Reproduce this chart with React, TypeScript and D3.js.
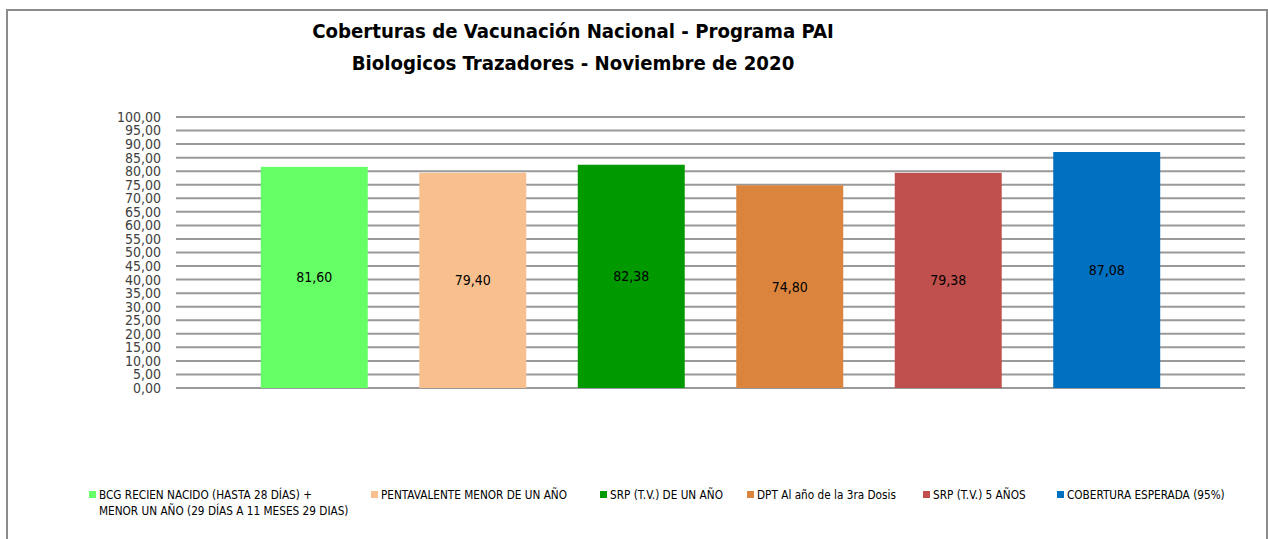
import React from 'react';
import * as d3 from 'd3';

const titleLines = ['Coberturas de Vacunación Nacional - Programa PAI', 'Biologicos Trazadores - Noviembre de 2020'];
const series = [
  'BCG RECIEN NACIDO (HASTA 28 DÍAS) +|MENOR UN AÑO (29 DÍAS A 11 MESES 29 DIAS)',
  'PENTAVALENTE MENOR DE UN AÑO',
  'SRP (T.V.) DE UN AÑO',
  'DPT Al año de la 3ra Dosis',
  'SRP (T.V.) 5 AÑOS',
  'COBERTURA ESPERADA (95%)',
];
const values = [81.6, 79.4, 82.38, 74.8, 79.38, 87.08];
const colors = ['#66FF66', '#F9C08F', '#009900', '#DB843D', '#C0504D', '#0070C0'];
const yTicks = d3.range(0, 101, 5);
const legendX = [92, 374, 603, 750, 926, 1060];

const font = "'Liberation Sans Narrow', 'DejaVu Sans Condensed', 'Open Sans', sans-serif";
const fmt = (v: number) => v.toFixed(2).replace('.', ',');

export default function App() {
  const W = 1268, H = 539;
  const plotL = 176, plotR = 1245, top = 117, bottom = 388;

  const y = d3.scaleLinear().domain([0, 100]).range([bottom, top]);
  const x = d3.scaleBand<number>()
    .domain(d3.range(series.length))
    .range([plotL, plotR])
    .paddingInner(0.325)
    .paddingOuter(0.535);

  return (
    <svg width={W} height={H} style={{ position: 'absolute', left: 0, top: 0 }} fontFamily={font}>
      <rect x={0} y={0} width={W} height={H} fill="#fff" />
      <rect x={7} y={10} width={1260} height={560} fill="#fff" stroke="#8c8c8c" strokeWidth={2} />

      {titleLines.map((t, i) => (
        <text key={i} x={573} y={38 + i * 32} textAnchor="middle" fontSize={20.2} fontWeight="bold" fill="#000">{t}</text>
      ))}

      {yTicks.map((t) => (
        <g key={t}>
          <line x1={plotL} x2={plotR} y1={y(t)} y2={y(t)} stroke="#999" strokeWidth={2} />
          <text x={161} y={y(t)} dy="0.35em" textAnchor="end" fontSize={14} fill="#404040">{fmt(t)}</text>
        </g>
      ))}

      {values.map((v, i) => (
        <g key={i}>
          <rect x={x(i)} y={y(v)} width={x.bandwidth()} height={y(0) - y(v)} fill={colors[i]} />
          <text x={(x(i) as number) + x.bandwidth() / 2} y={(y(v) + y(0)) / 2} dy="0.35em" textAnchor="middle" fontSize={14} fill="#000">{fmt(v)}</text>
        </g>
      ))}

      {series.map((s, i) => (
        <g key={i}>
          <rect x={legendX[i] - 3} y={491} width={7} height={7} fill={colors[i]} />
          {s.split('|').map((ln, j) => (
            <text key={j} x={legendX[i] + 7} y={495 + j * 16} dy="0.35em" fontSize={11.7} fill="#000">{ln}</text>
          ))}
        </g>
      ))}
    </svg>
  );
}
